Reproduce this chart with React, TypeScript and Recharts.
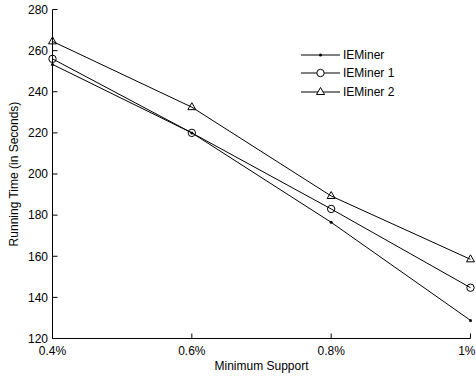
import { LineChart, Line, XAxis, YAxis, Legend, Label } from 'recharts';

// values
const supports = ['0.4%', '0.6%', '0.8%', '1%'];
const ieMiner = [253.3, 220, 176.5, 128.8];
const ieMiner1 = [256, 220, 183, 144.7];
const ieMiner2 = [264.5, 232.5, 189.3, 158.5];
const yTicks = [120, 140, 160, 180, 200, 220, 240, 260, 280];

const data = supports.map((s, i) => ({
  support: s,
  IEMiner: ieMiner[i],
  'IEMiner 1': ieMiner1[i],
  'IEMiner 2': ieMiner2[i],
}));

const FONT = '"Liberation Sans", Arial, Helvetica, sans-serif';
const tickStyle = { fontSize: 12, fill: '#000', fontFamily: FONT };

const Triangle = (props: any) => {
  const { cx, cy, index } = props;
  if (cx == null || cy == null) return null;
  return (
    <polygon
      key={`tri-${index}`}
      points={`${cx},${cy - 4.5} ${cx - 4},${cy + 2.5} ${cx + 4},${cy + 2.5}`}
      fill="none"
      stroke="#000"
      strokeWidth={1}
    />
  );
};

// last label would run past the figure edge, so pull it back inside like the original
const XTick = (props: any) => {
  const { x, y, payload, index } = props;
  const last = index === supports.length - 1;
  return (
    <text
      x={last ? x + 5 : x}
      y={y}
      dy="0.71em"
      textAnchor={last ? 'end' : 'middle'}
      style={tickStyle}
    >
      {payload.value}
    </text>
  );
};

const legendItems = [
  { name: 'IEMiner', marker: 'dot' },
  { name: 'IEMiner 1', marker: 'circle' },
  { name: 'IEMiner 2', marker: 'triangle' },
];

function LegendBox() {
  return (
    <div style={{ fontFamily: FONT, fontSize: 12, color: '#000' }}>
      {legendItems.map((item) => (
        <div key={item.name} style={{ display: 'flex', alignItems: 'center', height: 18.4 }}>
          <svg width={42} height={18} style={{ display: 'block' }}>
            <line x1={1} y1={9} x2={40} y2={9} stroke="#000" strokeWidth={1} />
            {item.marker === 'dot' && <circle cx={20.5} cy={9} r={1.5} fill="#000" />}
            {item.marker === 'circle' && <circle cx={20.5} cy={9} r={3.7} fill="#fff" stroke="#000" />}
            {item.marker === 'triangle' && (
              <polygon points="20.5,4.5 16.5,11.5 24.5,11.5" fill="#fff" stroke="#000" />
            )}
          </svg>
          <span style={{ marginLeft: 1 }}>{item.name}</span>
        </div>
      ))}
    </div>
  );
}

export default function App() {
  return (
    <div style={{ position: 'absolute', left: 0, top: 0, background: '#fff' }}>
      <LineChart
        width={476}
        height={378}
        data={data}
        margin={{ top: 9.5, right: 5.5, left: 0.5, bottom: 0 }}
      >
        <XAxis
          dataKey="support"
          height={39.5}
          tick={<XTick />}
          tickSize={-5}
          tickMargin={13}
          axisLine={{ stroke: '#000', strokeWidth: 1 }}
          tickLine={{ stroke: '#000' }}
          interval={0}
        >
          <Label
            content={(p: any) => {
              const vb = p.viewBox;
              return (
                <text
                  x={vb.x + vb.width / 2}
                  y={vb.y + 31}
                  textAnchor="middle"
                  style={tickStyle}
                >
                  Minimum Support
                </text>
              );
            }}
          />
        </XAxis>
        <XAxis
          xAxisId="top"
          orientation="top"
          dataKey="support"
          height={0}
          tick={false}
          tickSize={-5}
          axisLine={{ stroke: '#000', strokeWidth: 1 }}
          tickLine={{ stroke: '#000' }}
          interval={0}
        />
        <YAxis
          width={52}
          domain={[120, 280]}
          ticks={yTicks}
          tick={tickStyle}
          tickSize={-5}
          tickMargin={9.5}
          axisLine={{ stroke: '#000', strokeWidth: 1 }}
          tickLine={{ stroke: '#000' }}
          interval={0}
        >
          <Label
            content={(p: any) => {
              const vb = p.viewBox;
              const cx = 18;
              const cy = vb.y + vb.height / 2;
              return (
                <text
                  x={cx}
                  y={cy}
                  textAnchor="middle"
                  transform={`rotate(-90, ${cx}, ${cy})`}
                  style={tickStyle}
                >
                  Running Time (in Seconds)
                </text>
              );
            }}
          />
        </YAxis>
        <YAxis
          yAxisId="right"
          orientation="right"
          width={0}
          domain={[120, 280]}
          ticks={yTicks}
          tick={false}
          tickSize={-5}
          axisLine={{ stroke: '#000', strokeWidth: 1 }}
          tickLine={{ stroke: '#000' }}
          interval={0}
        />
        <Legend
          layout="vertical"
          align="center"
          verticalAlign="middle"
          wrapperStyle={{ left: 300, top: 45.8, width: 120, height: 56 }}
          content={() => <LegendBox />}
        />
        <Line
          type="linear"
          dataKey="IEMiner"
          stroke="#000"
          strokeWidth={1}
          dot={{ r: 1.5, fill: '#000', stroke: '#000', strokeWidth: 0 }}
          activeDot={false}
          isAnimationActive={false}
        />
        <Line
          type="linear"
          dataKey="IEMiner 1"
          stroke="#000"
          strokeWidth={1}
          dot={{ r: 3.7, fill: 'none', stroke: '#000', strokeWidth: 1 }}
          activeDot={false}
          isAnimationActive={false}
        />
        <Line
          type="linear"
          dataKey="IEMiner 2"
          stroke="#000"
          strokeWidth={1}
          dot={Triangle}
          activeDot={false}
          isAnimationActive={false}
        />
      </LineChart>
    </div>
  );
}
